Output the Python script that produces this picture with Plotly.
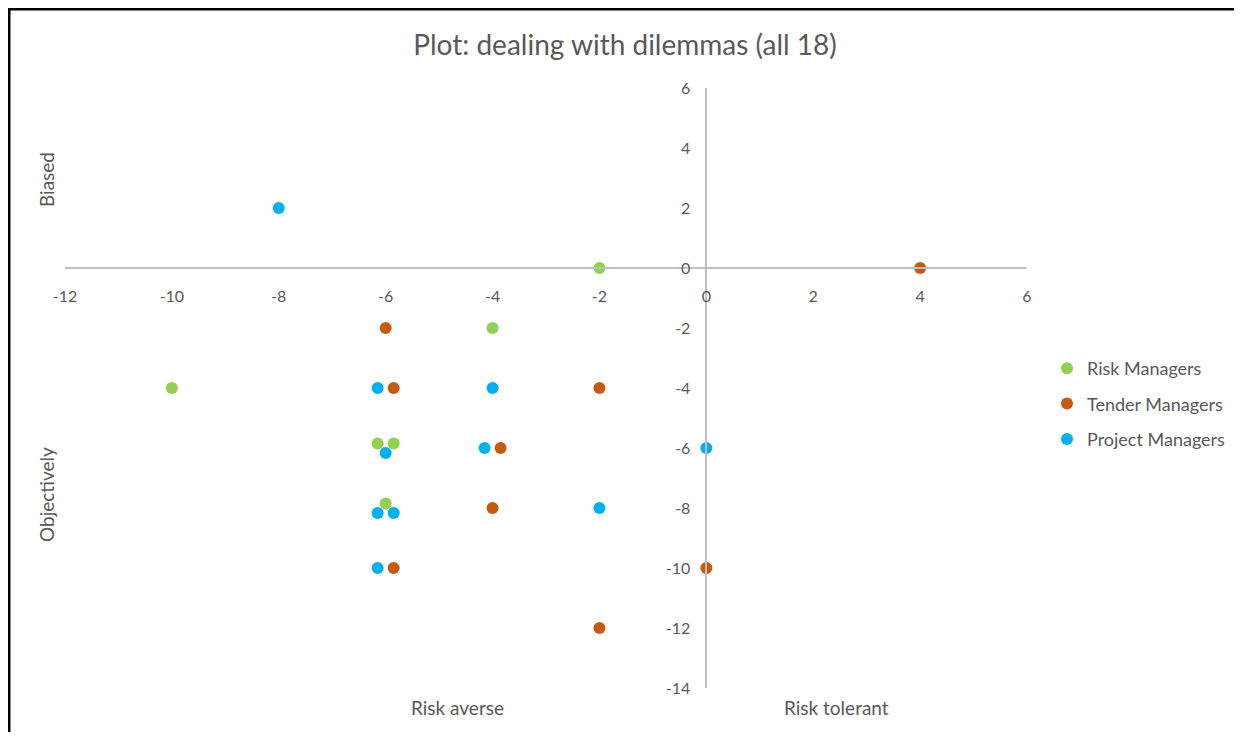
import plotly.graph_objects as go

# Data
risk_x = [-2, -4, -10, -6.15, -5.85, -6]
risk_y = [0, -2, -4, -5.85, -5.85, -7.85]

tender_x = [4, -6, -5.85, -2, -3.85, -4, -5.85, 0, -2]
tender_y = [0, -2, -4, -4, -6, -8, -10, -10, -12]

project_x = [-8, -6.15, -4, -6, -4.15, 0, -6.15, -5.85, -2, -6.15]
project_y = [2, -4, -4, -6.17, -6, -6, -8.17, -8.17, -8, -10]

series_names = ["Risk Managers", "Tender Managers", "Project Managers"]
series_colors = ["#92D050", "#C55A11", "#00B0F0"]
x_ticks = [-12, -10, -8, -6, -4, -2, 0, 2, 4, 6]
y_ticks = [-14, -12, -10, -8, -6, -4, -2, 0, 2, 4, 6]

FONT = "Lato"
GREY = "#595959"

fig = go.Figure()
for name, xs, ys, col in zip(series_names, [risk_x, tender_x, project_x],
                             [risk_y, tender_y, project_y], series_colors):
    fig.add_trace(go.Scatter(x=xs, y=ys, mode="markers", name=name,
                             legendgroup=name,
                             marker=dict(size=12, color=col, line=dict(width=0))))

OFF = 8  # page body margin
W, H = 1242 - 2 * OFF, 740 - 2 * OFF
L, R, T, B = 65 - OFF, 1027 - OFF, 88 - OFF, 688 - OFF
pw, ph = R - L, B - T


def px(xp):
    """reference page pixel x -> paper fraction"""
    return (xp - OFF - L) / pw


def py(yp):
    """reference page pixel y -> paper fraction"""
    return (B - (yp - OFF)) / ph


fig.update_layout(
    width=W, height=H,
    margin=dict(l=L, r=W - R, t=T, b=H - B, autoexpand=False),
    paper_bgcolor="white", plot_bgcolor="white",
    font=dict(family=FONT, color=GREY, size=15),
    title=dict(text="Plot: dealing with dilemmas (all 18)", x=px(625), xref="paper",
               xanchor="center", y=1 - (45 - OFF) / H, yanchor="middle",
               font=dict(size=28, color=GREY, family=FONT)),
    xaxis=dict(range=[-12, 6], tickvals=x_ticks, ticktext=[str(v) for v in x_ticks],
               showgrid=False, zeroline=False,
               showline=True, linecolor="#BFBFBF", linewidth=1.5,
               anchor="free", position=14 / 20, ticks="", ticklabelstandoff=14,
               tickfont=dict(size=16, color=GREY)),
    yaxis=dict(range=[-14, 6], tickvals=y_ticks, ticktext=[str(v) for v in y_ticks],
               showgrid=False, zeroline=False,
               showline=True, linecolor="#BFBFBF", linewidth=1.5,
               anchor="free", position=12 / 18, ticks="", ticklabelstandoff=12,
               tickfont=dict(size=16, color=GREY)),
    legend=dict(x=px(1047), y=py(404), xanchor="left", yanchor="middle",
                font=dict(size=18, color=GREY), tracegroupgap=9,
                traceorder="grouped", itemwidth=30, bgcolor="rgba(0,0,0,0)"),
    showlegend=True,
)

ann_font = dict(size=19, color=GREY, family=FONT)
for txt, ax, ay, ang in [("Biased", 46, 180, -90), ("Objectively", 46, 495, -90),
                         ("Risk averse", 457, 707, 0), ("Risk tolerant", 836, 707, 0)]:
    fig.add_annotation(text=txt, x=px(ax), y=py(ay), xref="paper", yref="paper",
                       xanchor="center", yanchor="middle", textangle=ang,
                       showarrow=False, font=ann_font)

# Frame border (left and top), at the figure's edge
fig.add_shape(type="line", xref="paper", yref="paper", x0=px(9), x1=px(9),
              y0=py(760), y1=py(8), line=dict(color="black", width=3))
fig.add_shape(type="line", xref="paper", yref="paper", x0=px(8), x1=px(1260),
              y0=py(9), y1=py(9), line=dict(color="black", width=3))

fig.write_html("out.html")
